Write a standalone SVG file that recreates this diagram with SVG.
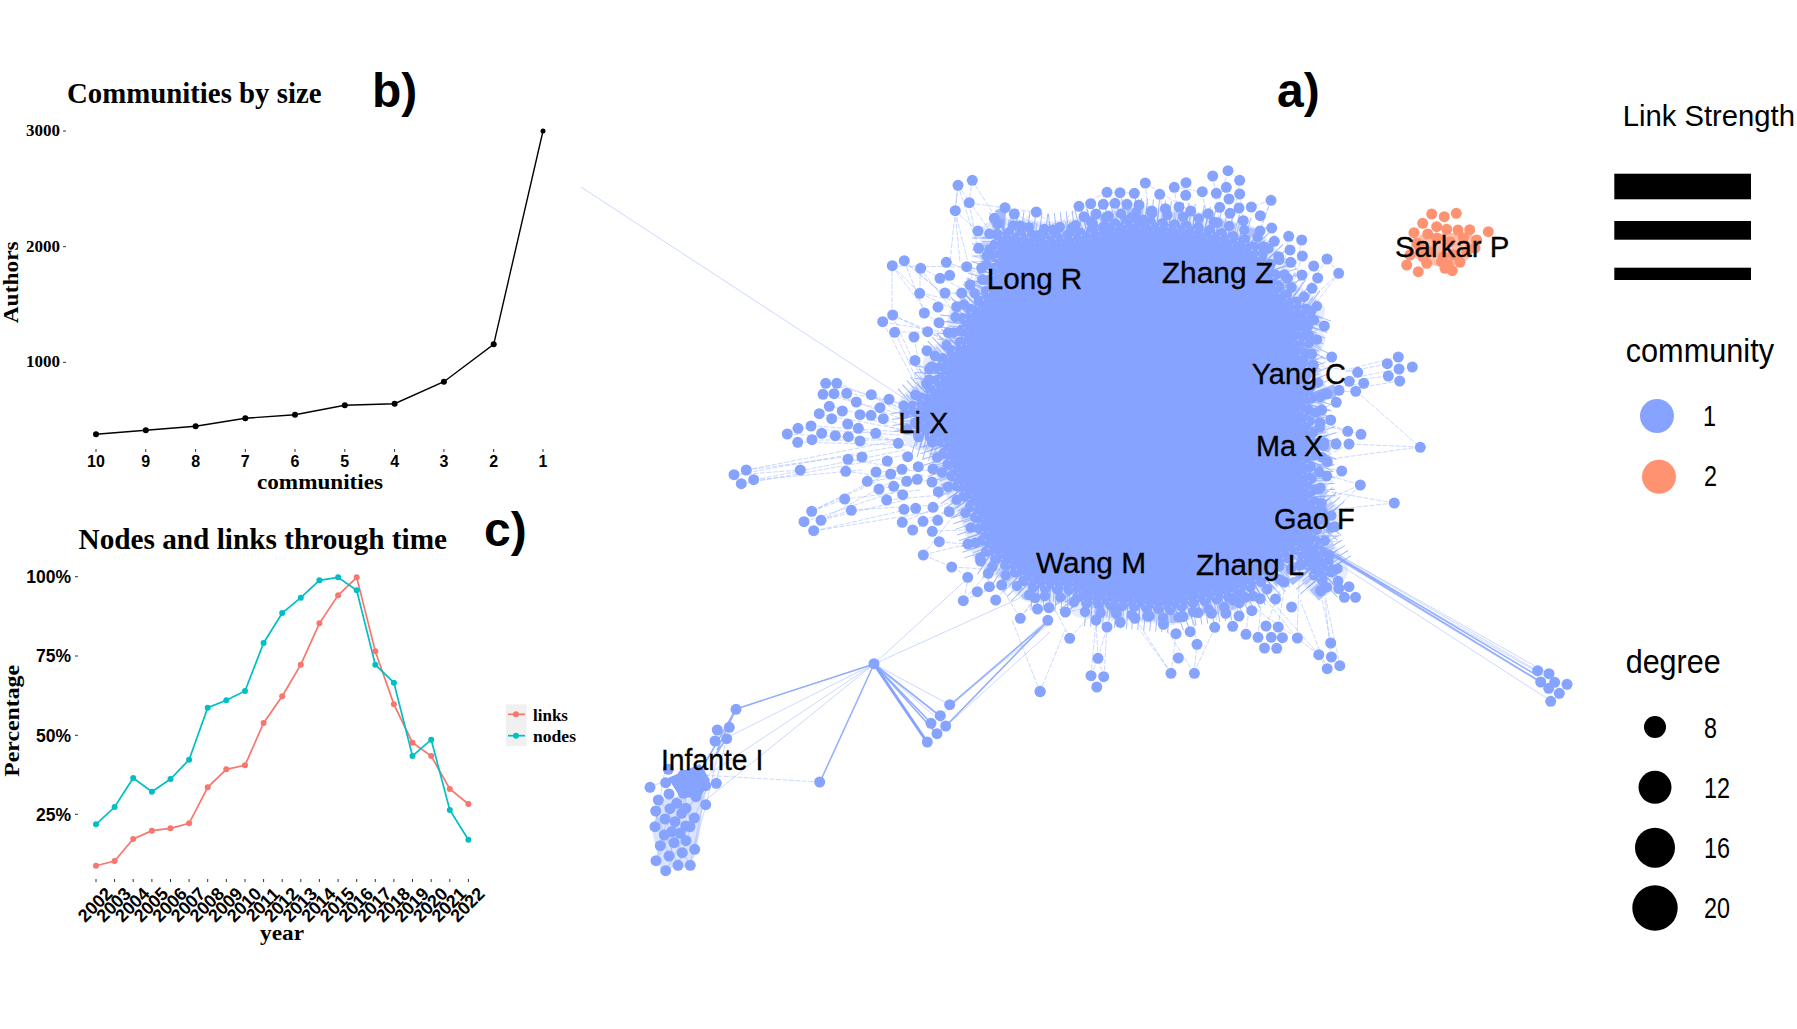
<svg xmlns="http://www.w3.org/2000/svg" width="1797" height="1029" viewBox="0 0 1797 1029">
<style>
text{font-family:"Liberation Sans",Arial,sans-serif;fill:#000}
.s{font-family:"Liberation Serif","Times New Roman",serif;font-weight:700}
.t{font-size:29px}.a{font-size:16px}.ax{font-size:22px}
.p{font-weight:700;font-size:48px}
.lab{font-size:29.5px}.lg{font-size:29px}.lt{font-size:34px}
.lab text{stroke:#000;stroke-width:.3px}
.n circle{r:5.5px;fill:#85a3ff}
.o circle{r:5.5px;fill:#ff9270}
.e{fill:none;stroke:#85a3ff;stroke-opacity:.42;stroke-width:1}
.e2{fill:none;stroke:#85a3ff;stroke-width:1.6;stroke-opacity:.85}
.ds{stroke-dasharray:5 1.5}
.tick{stroke:#333;stroke-width:1;fill:none}
.c1{fill:none;stroke:#f8766d;stroke-width:1.7}
.c2{fill:none;stroke:#00bfc4;stroke-width:1.7}
.d1 circle{r:3px;fill:#f8766d}
.d2 circle{r:3px;fill:#00bfc4}
.ring{fill:none;stroke:#85a3ff;stroke-linecap:round}
</style>
<defs>
<path id="bp" d="M913,406L923,397 937,383 938,363 960,343 963,317 980,300 987,290 995,262 995,235 1003,232 1047,237 1080,233 1130,220 1197,227 1247,240 1273,267 1280,290 1310,312 1300,340 1310,340 1300,360 1313,393 1307,413 1317,447 1310,463 1313,500 1327,517 1316,530 1316,542 1333,570 1320,582 1310,570 1300,547 1264,580 1230,597 1191,603 1172,610 1130,606 1083,603 1073,590 1030,587 1013,570 987,553 973,510 953,480 940,440 917,433Z"/>
</defs>

<g id="panel-b">
<text class="s t" x="67" y="102.7" textLength="254.500" lengthAdjust="spacingAndGlyphs">Communities by size</text>
<text class="p" x="372" y="107">b)</text>
<text class="s a" x="26" y="136" textLength="34" lengthAdjust="spacingAndGlyphs">3000</text>
<text class="s a" x="26" y="251.700" textLength="34" lengthAdjust="spacingAndGlyphs">2000</text>
<text class="s a" x="26" y="367" textLength="34" lengthAdjust="spacingAndGlyphs">1000</text>
<path class="tick" d="M63,131h3M63,246.700h3M63,362.300h3M96,449v3M145.800,449v3M195.600,449v3M245.300,449v3M295,449v3M344.800,449v3M394.600,449v3M443.900,449v3M493.700,449v3M543,449v3"/>
<g class="s a" text-anchor="middle">
<text x="96" y="467">10</text><text x="145.800" y="467">9</text><text x="195.600" y="467">8</text><text x="245.300" y="467">7</text><text x="295" y="467">6</text><text x="344.800" y="467">5</text><text x="394.600" y="467">4</text><text x="443.900" y="467">3</text><text x="493.700" y="467">2</text><text x="543" y="467">1</text>
</g>
<text class="s ax" x="257" y="489.300" textLength="126" lengthAdjust="spacingAndGlyphs">communities</text>
<text class="s ax" transform="translate(17.500 323.300) rotate(-90)" textLength="82" lengthAdjust="spacingAndGlyphs">Authors</text>
<polyline fill="none" stroke="#000" stroke-width="1.400" points="96,434.300 145.800,430.300 195.600,426.300 245.300,418.300 295,414.700 344.800,405.300 394.600,403.700 443.900,381.700 493.700,344.300 543,131"/>
<g fill="#000"><circle cx="96" cy="434.300" r="3"/><circle cx="145.800" cy="430.300" r="3"/><circle cx="195.600" cy="426.300" r="3"/><circle cx="245.300" cy="418.300" r="3"/><circle cx="295" cy="414.700" r="3"/><circle cx="344.800" cy="405.300" r="3"/><circle cx="394.600" cy="403.700" r="3"/><circle cx="443.900" cy="381.700" r="3"/><circle cx="493.700" cy="344.300" r="3"/><circle cx="543" cy="131" r="2.500"/></g>
</g>

<g id="panel-c">
<text class="s t" x="78.500" y="549.300" textLength="368.500" lengthAdjust="spacingAndGlyphs">Nodes and links through time</text>
<text class="p" x="484" y="546">c)</text>
<g class="s" text-anchor="end" style="font-size:17.500px">
<text x="71" y="583.300">100%</text><text x="71" y="662.300">75%</text><text x="71" y="741.700">50%</text><text x="71" y="820.700">25%</text>
</g>
<path class="tick" d="M75,576.700h3M75,656h3M75,735.300h3M75,814.300h3M96,879v3M114.600,879v3M133.200,879v3M151.900,879v3M170.500,879v3M189.100,879v3M207.700,879v3M226.300,879v3M245,879v3M263.600,879v3M282.200,879v3M300.800,879v3M319.400,879v3M338.100,879v3M356.700,879v3M375.300,879v3M393.900,879v3M412.500,879v3M431.200,879v3M449.800,879v3M468.400,879v3"/>
<g class="s" text-anchor="middle" style="font-size:18px">
<text x="99.400" y="909" transform="rotate(-45 99.400 909)">2002</text>
<text x="118" y="909" transform="rotate(-45 118 909)">2003</text>
<text x="136.600" y="909" transform="rotate(-45 136.600 909)">2004</text>
<text x="155.300" y="909" transform="rotate(-45 155.300 909)">2005</text>
<text x="173.900" y="909" transform="rotate(-45 173.900 909)">2006</text>
<text x="192.500" y="909" transform="rotate(-45 192.500 909)">2007</text>
<text x="211.100" y="909" transform="rotate(-45 211.100 909)">2008</text>
<text x="229.700" y="909" transform="rotate(-45 229.700 909)">2009</text>
<text x="248.400" y="909" transform="rotate(-45 248.400 909)">2010</text>
<text x="267" y="909" transform="rotate(-45 267 909)">2011</text>
<text x="285.600" y="909" transform="rotate(-45 285.600 909)">2012</text>
<text x="304.200" y="909" transform="rotate(-45 304.200 909)">2013</text>
<text x="322.800" y="909" transform="rotate(-45 322.800 909)">2014</text>
<text x="341.500" y="909" transform="rotate(-45 341.500 909)">2015</text>
<text x="360.100" y="909" transform="rotate(-45 360.100 909)">2016</text>
<text x="378.700" y="909" transform="rotate(-45 378.700 909)">2017</text>
<text x="397.300" y="909" transform="rotate(-45 397.300 909)">2018</text>
<text x="415.900" y="909" transform="rotate(-45 415.900 909)">2019</text>
<text x="434.600" y="909" transform="rotate(-45 434.600 909)">2020</text>
<text x="453.200" y="909" transform="rotate(-45 453.200 909)">2021</text>
<text x="471.800" y="909" transform="rotate(-45 471.800 909)">2022</text>
</g>
<text class="s ax" x="260" y="940" textLength="44" lengthAdjust="spacingAndGlyphs">year</text>
<text class="s ax" transform="translate(19 776.700) rotate(-90)" textLength="111.700" lengthAdjust="spacingAndGlyphs">Percentage</text>
<polyline class="c1" points="96,865.700 114.600,861 133.200,839 151.900,830.700 170.500,828.300 189.100,823.300 207.700,787.300 226.300,769.300 245,765.300 263.600,723 282.200,696.300 300.800,664.700 319.400,623.300 338.100,595.300 356.700,577.300 375.300,651.300 393.900,704.300 412.500,742.700 431.200,756 449.800,789 468.400,804"/>
<polyline class="c2" points="96,824.300 114.600,807 133.200,778 151.900,791.700 170.500,779 189.100,759.700 207.700,707.700 226.300,700.300 245,691 263.600,643 282.200,613 300.800,597.700 319.400,580.300 338.100,577.300 356.700,590.300 375.300,664.700 393.900,682.700 412.500,756 431.200,739.700 449.800,810 468.400,839.700"/>
<g class="d1"><circle cx="96" cy="865.700"/><circle cx="114.600" cy="861"/><circle cx="133.200" cy="839"/><circle cx="151.900" cy="830.700"/><circle cx="170.500" cy="828.300"/><circle cx="189.100" cy="823.300"/><circle cx="207.700" cy="787.300"/><circle cx="226.300" cy="769.300"/><circle cx="245" cy="765.300"/><circle cx="263.600" cy="723"/><circle cx="282.200" cy="696.300"/><circle cx="300.800" cy="664.700"/><circle cx="319.400" cy="623.300"/><circle cx="338.100" cy="595.300"/><circle cx="356.700" cy="577.300"/><circle cx="375.300" cy="651.300"/><circle cx="393.900" cy="704.300"/><circle cx="412.500" cy="742.700"/><circle cx="431.200" cy="756"/><circle cx="449.800" cy="789"/><circle cx="468.400" cy="804"/></g>
<g class="d2"><circle cx="96" cy="824.300"/><circle cx="114.600" cy="807"/><circle cx="133.200" cy="778"/><circle cx="151.900" cy="791.700"/><circle cx="170.500" cy="779"/><circle cx="189.100" cy="759.700"/><circle cx="207.700" cy="707.700"/><circle cx="226.300" cy="700.300"/><circle cx="245" cy="691"/><circle cx="263.600" cy="643"/><circle cx="282.200" cy="613"/><circle cx="300.800" cy="597.700"/><circle cx="319.400" cy="580.300"/><circle cx="338.100" cy="577.300"/><circle cx="356.700" cy="590.300"/><circle cx="375.300" cy="664.700"/><circle cx="393.900" cy="682.700"/><circle cx="412.500" cy="756"/><circle cx="431.200" cy="739.700"/><circle cx="449.800" cy="810"/><circle cx="468.400" cy="839.700"/></g>
<rect x="506" y="704.300" width="20.600" height="41.700" fill="#f0f0f0"/>
<path class="c1" d="M508,714.300h17"/><path class="c2" d="M508,735.700h17"/>
<circle cx="516" cy="714.300" r="3" fill="#f8766d"/><circle cx="516" cy="735.700" r="3" fill="#00bfc4"/>
<text class="s" x="533" y="720.700" style="font-size:17px" textLength="35" lengthAdjust="spacingAndGlyphs">links</text>
<text class="s" x="533" y="741.700" style="font-size:17px" textLength="43" lengthAdjust="spacingAndGlyphs">nodes</text>
</g>

<g id="connectors">
<path class="e" d="M581,187L913,404"/>
<use href="#bp" fill="none" stroke="#85a3ff" stroke-opacity=".2" stroke-width="30" stroke-linejoin="round"/>
<use href="#bp" fill="none" stroke="#85a3ff" stroke-opacity=".75" stroke-width="46" stroke-dasharray="1 5"/>
<use href="#bp" fill="none" stroke="#85a3ff" stroke-opacity=".6" stroke-width="26" stroke-dasharray="1.500 2.500" stroke-dashoffset="2"/>
<path class="e ds" d="M826,383L905,405M837,383L905,410M823,394L905,415M834,394L905,420M847,393L913,405M829,406L905,425M819,414L905,430M811,426L905,432M798,428L900,435M787,434L900,440M798,442L900,445M812,440L900,440M746,470L900,440M734,475L905,445M754,480L905,450M741,484L905,455M746,470L860,455M754,480L862,470M734,475L800,470M812,511L895,470M821,520L895,480M804,522L900,490M814,531L905,510M821,520L905,500M812,511L880,480M844,499L920,490M851,510L935,505M821,520L851,510M814,531L930,512M812,511L845,499M902,522L955,500M923,521L960,505M913,530L950,510M932,531L965,530M939,542L968,544M923,555L968,544M923,555L952,567M952,567L968,577M952,567L1000,570M923,555L950,520M860,415L925,440M870,395L915,420M889,400L918,425M848,425L920,450M876,472L925,470M867,481L925,475M879,489L930,480M887,500L940,495M845,471L905,480M848,459L910,470"/>
<path class="e ds" d="M958,185L1003,250M958,185L985,270M972,180L1010,240M972,180L969,203M955,211L960,262M955,211L975,290M969,203L1036,212M1005,208L1040,240M1014,214L1060,235M1036,212L1065,235M1036,212L995,240M955,211L958,185M958,185L950,262M892,266L925,310M904,261L945,295M892,315L892,266M892,315L940,335M924,313L950,330M920,293L955,310M921,268L975,295M946,262L985,275M966,267L990,290M892,266L966,267M892,315L945,340M904,261L950,300M920,268L960,320M883,322L923,398M892,315L929,395M895,332L925,398M914,337L925,396M883,322L948,333M895,332L927,332M892,266L920,293M904,261L925,313M920,268L920,293M927,351L938,370M915,360L935,380M927,332L960,345M939,323L975,315M920,293L975,305M945,294L985,290M969,203L978,248M955,211L978,231M978,231L1000,240M994,218L1030,235"/>
<path class="e ds" d="M1079,206L1050,235M1091,204L1075,232M1107,192L1100,230M1120,193L1125,225M1134,193L1140,225M1145,183L1150,225M1160,194L1165,228M1174,187L1180,225M1186,183L1190,225M1202,192L1210,230M1213,176L1220,230M1228,171L1210,230M1240,180L1230,235M1228,171L1240,180M1240,194L1245,240M1271,200L1255,245M1271,200L1251,207M1271,200L1260,230M1289,236L1280,290M1302,240L1290,290M1327,259L1300,300M1339,273L1310,311M1339,273L1310,300M1314,266L1290,300M1302,256L1285,310M1339,273L1327,259M1079,206L1107,192M1107,192L1134,193M1174,187L1202,192M1079,206L1120,230M1145,183L1190,211"/>
<path class="e ds" d="M1324,326L1300,340M1332,357L1303,362M1387,364L1346,372M1398,357L1345,370M1412,367L1399,369M1399,369L1352,378M1388,376L1350,381M1400,381L1356,388M1358,372L1312,365M1364,383L1320,390M1356,391L1313,393M1356,391L1420,447M1339,390L1310,400M1336,402L1310,415M1331,420L1310,410M1348,431L1315,420M1361,434L1320,425M1336,444L1318,450M1349,444L1320,460M1420,447L1349,444M1420,447L1323,460M1342,471L1310,465M1360,485L1312,470M1360,485L1315,505M1394,503L1320,490M1394,503L1330,510M1360,485L1330,515M1342,471L1313,500"/>
<path class="e ds" d="M1021,618L1040,592M1037,609L1050,590M1049,608L1065,598M1065,612L1096,607M1070,638L1050,600M1070,638L1095,610M1040,692L1012,620M1040,692L1065,630M1096,620L1110,610M1107,627L1120,610M1098,658L1096,620M1098,658L1107,627M1091,676L1096,620M1104,677L1107,627M1097,687L1091,676M1097,687L1104,677M1091,676L1098,658M1104,677L1098,658M1171,673L1135,618M1171,673L1176,634M1194,673L1163,624M1194,673L1197,644M1171,673L1140,630M1194,673L1215,627M1197,644L1190,610M1215,627L1220,600M1233,626L1240,600M1246,634L1250,600M1258,637L1262,595M1266,626L1280,590M1278,627L1285,585M1297,638L1262,595M1297,638L1250,605M1297,638L1300,555M1331,643L1320,590M1331,657L1325,600M1319,655L1262,590M1319,655L1297,638M1340,666L1331,657M1327,669L1319,655M1340,666L1325,595M1327,669L1300,600M964,600L990,570M964,600L1000,585M978,592L1002,585M996,600L1015,575M1020,618L1035,598M1020,618L1000,585M964,600L968,578"/>
<path class="e" d="M1316,542L1538,671M1316,542L1549,674M1316,544L1541,682M1316,546L1555,682M1316,546L1549,688M1314,548L1551,701"/>
<path class="e2" d="M1320,546L1538,676M1318,546L1541,682"/>
<path class="e" d="M874,664L968,578M874,664L1020,598M874,664L718,742M874,664L706,800M874,664L700,780M736,709L874,664M950,705L874,664M940,716L874,664M931,723L874,664M946,726L874,664M937,734L874,664M950,705L1050,623M946,726L1050,632M940,716L1047,620M937,734L1040,630"/>
<path class="e ds" d="M820,782L700,775"/>
<path class="e2" d="M736,709L874,664M820,782L874,664M950,705L1047,622M946,726L1049,620"/>
<path fill="none" stroke="#85a3ff" stroke-width="3" d="M874,664L927,742"/>
<path class="e2" d="M874,664L931,723M874,664L937,734M874,664L940,716M736,709L717,750M726,739L712,760M736,709L700,772"/>
<path class="e" d="M666,783L700,770M650,787L680,775M706,805L720,745M716,783L725,745M694,849L706,805M694,818L706,790M655,827L665,770M670,856L686,780M690,865L706,790M666,871L694,818M656,861L670,809M678,865L655,811M686,840L660,800M675,822L696,797M691,827L684,793M665,835L695,800M660,846L690,790M690,865L665,820M678,865L694,818M656,861L686,808M669,856L655,811"/>
</g>

<g id="network" class="n">
<use id="blob" href="#bp" fill="#85a3ff"/>
<use class="ring" href="#bp" stroke-width="11" stroke-dasharray="0 12"/>
<use class="ring" href="#bp" stroke-width="10" stroke-dasharray="0 15" transform="translate(1120 415) scale(1.045) translate(-1120 -415)"/>
<use href="#bp" fill="none" stroke="#fff" stroke-opacity=".55" stroke-width="1.300" stroke-dasharray="1 8" transform="translate(1120 415) scale(.985) translate(-1120 -415)"/>
<use href="#bp" fill="none" stroke="#fff" stroke-opacity=".35" stroke-width="1" stroke-dasharray="1 13" transform="translate(1120 415) scale(.96) translate(-1120 -415)"/>
<g id="cluster-topleft">
<circle cx="958" cy="185.300"/><circle cx="972.300" cy="180.300"/><circle cx="969.300" cy="202.700"/><circle cx="955.300" cy="210.700"/><circle cx="1005" cy="207.700"/><circle cx="1014.300" cy="214"/><circle cx="1036.300" cy="212"/><circle cx="994.300" cy="218.300"/><circle cx="1020.300" cy="226"/><circle cx="978" cy="231"/><circle cx="978.700" cy="248.300"/><circle cx="987" cy="256"/><circle cx="892.300" cy="265.700"/><circle cx="904.300" cy="260.700"/><circle cx="920.700" cy="268.300"/><circle cx="946.300" cy="262.300"/><circle cx="966.700" cy="266.700"/><circle cx="940" cy="278.300"/><circle cx="949.700" cy="275.300"/><circle cx="919.700" cy="293.300"/><circle cx="945" cy="293"/><circle cx="938" cy="307"/><circle cx="924.300" cy="313"/><circle cx="892.700" cy="315"/><circle cx="981.700" cy="268"/><circle cx="970" cy="285"/><circle cx="961.700" cy="293"/><circle cx="956.700" cy="306.700"/><circle cx="915" cy="360.500"/><circle cx="882.700" cy="321.700"/><circle cx="894.700" cy="332.300"/><circle cx="914" cy="337"/><circle cx="927.700" cy="331.700"/><circle cx="939" cy="322.700"/><circle cx="948.300" cy="332.700"/><circle cx="927" cy="350.700"/><circle cx="931.700" cy="366.700"/><circle cx="929.300" cy="380"/>
</g>
<g id="cluster-top">
<circle cx="1079" cy="206.300"/><circle cx="1090.700" cy="203.700"/><circle cx="1107" cy="192.300"/><circle cx="1120" cy="192.700"/><circle cx="1134.300" cy="193.300"/><circle cx="1145.300" cy="183"/><circle cx="1159.700" cy="194.300"/><circle cx="1174.300" cy="187.300"/><circle cx="1186" cy="182.700"/><circle cx="1185.700" cy="195.300"/><circle cx="1202.300" cy="191.700"/><circle cx="1212.700" cy="176"/><circle cx="1228" cy="170.700"/><circle cx="1239.700" cy="180.300"/><circle cx="1226.300" cy="187.300"/><circle cx="1216.300" cy="193.300"/><circle cx="1239.700" cy="194"/><circle cx="1229" cy="199"/><circle cx="1271" cy="200.300"/><circle cx="1251.300" cy="207"/><circle cx="1239" cy="208"/><circle cx="1219.700" cy="207.300"/><circle cx="1208.300" cy="213.700"/><circle cx="1190.700" cy="211"/><circle cx="1179" cy="207"/><circle cx="1165.300" cy="208.700"/><circle cx="1151.700" cy="211"/><circle cx="1139" cy="205"/><circle cx="1127" cy="204.300"/><circle cx="1115" cy="203.300"/><circle cx="1103.300" cy="204.300"/><circle cx="1096" cy="214"/><circle cx="1108.300" cy="216.300"/><circle cx="1084" cy="216.700"/><circle cx="1131.700" cy="217.700"/><circle cx="1143.300" cy="220"/><circle cx="1260.300" cy="215.700"/><circle cx="1243.300" cy="220.700"/><circle cx="1230" cy="213.300"/><circle cx="1271.700" cy="228"/><circle cx="1260" cy="231"/><circle cx="1288.700" cy="236.300"/><circle cx="1301.700" cy="240"/><circle cx="1274.300" cy="241.300"/><circle cx="1290" cy="250"/><circle cx="1302.300" cy="256"/><circle cx="1278.700" cy="256.700"/><circle cx="1327" cy="259"/><circle cx="1338.700" cy="273.300"/><circle cx="1313.700" cy="266"/><circle cx="1290.700" cy="262.300"/><circle cx="1302" cy="275"/><circle cx="1317.700" cy="278"/><circle cx="1312" cy="288.300"/><circle cx="1287.300" cy="278.300"/><circle cx="1311" cy="311"/><circle cx="1263.300" cy="246.700"/><circle cx="1217.300" cy="222.700"/><circle cx="1072" cy="228.300"/><circle cx="1092.700" cy="225"/><circle cx="1106.700" cy="227.700"/><circle cx="1053.300" cy="230"/><circle cx="1040" cy="235"/>
</g>
<g id="cluster-right">
<circle cx="1324.300" cy="326"/><circle cx="1308" cy="325.700"/><circle cx="1311.700" cy="354"/><circle cx="1331.700" cy="357"/><circle cx="1387.300" cy="363.700"/><circle cx="1398.300" cy="357"/><circle cx="1412.300" cy="367"/><circle cx="1399" cy="369"/><circle cx="1388.300" cy="376"/><circle cx="1399.700" cy="381"/><circle cx="1357.700" cy="372.300"/><circle cx="1363.700" cy="383.300"/><circle cx="1355.700" cy="391.300"/><circle cx="1339" cy="390.300"/><circle cx="1349.300" cy="381.300"/><circle cx="1326.700" cy="394"/><circle cx="1336.300" cy="402.300"/><circle cx="1321.700" cy="410"/><circle cx="1330.700" cy="420"/><circle cx="1320" cy="422.700"/><circle cx="1347.700" cy="431.300"/><circle cx="1361" cy="434.300"/><circle cx="1336" cy="444"/><circle cx="1349" cy="444"/><circle cx="1323.300" cy="445.700"/><circle cx="1420.300" cy="447.300"/><circle cx="1327.300" cy="461.700"/><circle cx="1341.700" cy="471"/><circle cx="1326.700" cy="476"/><circle cx="1360.300" cy="485"/><circle cx="1318.300" cy="489"/><circle cx="1394.300" cy="503"/><circle cx="1313.300" cy="365"/><circle cx="1303" cy="361.700"/><circle cx="1334.900" cy="526.700"/>
</g>
<g id="cluster-left">
<circle cx="825.700" cy="383.300"/><circle cx="836.700" cy="383.300"/><circle cx="823" cy="394.300"/><circle cx="834" cy="393.700"/><circle cx="846.700" cy="393.300"/><circle cx="856.300" cy="402"/><circle cx="871.300" cy="394.700"/><circle cx="889" cy="399.300"/><circle cx="880" cy="407.700"/><circle cx="829.300" cy="406.300"/><circle cx="819.300" cy="413.700"/><circle cx="842.300" cy="411"/><circle cx="831.700" cy="418.700"/><circle cx="860" cy="414.700"/><circle cx="871" cy="415.300"/><circle cx="883.300" cy="418.700"/><circle cx="847.700" cy="424"/><circle cx="811" cy="426"/><circle cx="798" cy="428.300"/><circle cx="787.300" cy="434"/><circle cx="821.700" cy="433.300"/><circle cx="835.300" cy="435.700"/><circle cx="848.300" cy="436.700"/><circle cx="858.300" cy="428.300"/><circle cx="875.700" cy="433.300"/><circle cx="812" cy="439.700"/><circle cx="797.700" cy="442.300"/><circle cx="860" cy="441"/><circle cx="898.300" cy="443.300"/><circle cx="746.300" cy="470"/><circle cx="734" cy="474.700"/><circle cx="753.700" cy="479.700"/><circle cx="741.300" cy="483.700"/><circle cx="800.300" cy="470"/><circle cx="845.700" cy="471.300"/><circle cx="848" cy="459.300"/><circle cx="862" cy="457"/><circle cx="887.300" cy="461"/><circle cx="907.700" cy="456.700"/><circle cx="918.300" cy="466.700"/><circle cx="876" cy="472"/><circle cx="890.700" cy="474"/><circle cx="902" cy="469.300"/><circle cx="867.300" cy="481.300"/><circle cx="879" cy="489"/><circle cx="893.700" cy="486.300"/><circle cx="906.700" cy="481.300"/><circle cx="917.300" cy="479.300"/><circle cx="932" cy="482"/><circle cx="902.700" cy="494.700"/><circle cx="886.700" cy="500"/><circle cx="844.700" cy="499"/><circle cx="851.300" cy="510.300"/><circle cx="811.700" cy="511.300"/><circle cx="821" cy="520.300"/><circle cx="804" cy="521.700"/><circle cx="813.700" cy="530.700"/><circle cx="904" cy="509.300"/><circle cx="915.700" cy="508.300"/><circle cx="933" cy="507.300"/><circle cx="949.300" cy="511.700"/><circle cx="902.300" cy="522.300"/><circle cx="923" cy="521.300"/><circle cx="937.700" cy="520.300"/><circle cx="912.700" cy="530"/><circle cx="932.300" cy="531.300"/><circle cx="939.300" cy="541.700"/><circle cx="968" cy="544"/><circle cx="923.300" cy="555"/><circle cx="951.700" cy="567"/><circle cx="967.700" cy="577.300"/><circle cx="938.300" cy="491.700"/><circle cx="933" cy="469"/>
</g>
<g id="cluster-bottom">
<circle cx="977.300" cy="591.700"/><circle cx="989.300" cy="586.700"/><circle cx="1001.700" cy="585"/><circle cx="963.300" cy="600.700"/><circle cx="995.700" cy="600"/><circle cx="1035" cy="597.700"/><circle cx="980.700" cy="561"/><circle cx="988.300" cy="573.300"/>
<circle cx="1020.300" cy="618.300"/><circle cx="1037.500" cy="609"/><circle cx="1049" cy="607.700"/><circle cx="1047.800" cy="620.300"/><circle cx="1065.400" cy="612"/><circle cx="1069.700" cy="638.300"/><circle cx="1040.200" cy="691.700"/><circle cx="1096" cy="620"/><circle cx="1107" cy="627"/><circle cx="1120.200" cy="622.300"/><circle cx="1135" cy="618.300"/><circle cx="1149.300" cy="616"/><circle cx="1098" cy="658.300"/><circle cx="1091" cy="675.700"/><circle cx="1103.700" cy="676.700"/><circle cx="1096.800" cy="687"/><circle cx="1115.600" cy="610.700"/><circle cx="1163.400" cy="624.300"/><circle cx="1176" cy="633.700"/><circle cx="1190.200" cy="631.700"/><circle cx="1197" cy="644.300"/><circle cx="1178.300" cy="658"/><circle cx="1171" cy="673.300"/><circle cx="1194.400" cy="673.300"/><circle cx="1183" cy="616.700"/><circle cx="1198" cy="612.700"/><circle cx="1211.600" cy="613.300"/><circle cx="1214.700" cy="627.300"/><circle cx="1225.800" cy="613.300"/><circle cx="1232.700" cy="626.300"/><circle cx="1239" cy="616"/><circle cx="1246" cy="634.300"/><circle cx="1251.800" cy="610.700"/><circle cx="1258" cy="637.300"/><circle cx="1266" cy="626"/><circle cx="1278.200" cy="627"/><circle cx="1271.300" cy="637.300"/><circle cx="1282.400" cy="637.700"/><circle cx="1264.500" cy="648"/><circle cx="1276.700" cy="648.300"/><circle cx="1260.200" cy="598.700"/><circle cx="1245" cy="597.300"/><circle cx="1233.400" cy="600"/><circle cx="1275.500" cy="599"/><circle cx="1291.600" cy="607"/><circle cx="1284.300" cy="582"/><circle cx="1297.400" cy="638"/><circle cx="1320.700" cy="590.700"/><circle cx="1338.700" cy="588.700"/><circle cx="1349" cy="586.700"/><circle cx="1344.400" cy="597.300"/><circle cx="1355.500" cy="597.300"/><circle cx="1334" cy="570"/><circle cx="1330.700" cy="643"/><circle cx="1331.400" cy="657"/><circle cx="1318.800" cy="654.700"/><circle cx="1339.800" cy="665.700"/><circle cx="1327.200" cy="668.700"/><circle cx="1300.400" cy="565"/>
</g>
<g id="cluster-far-right">
<circle cx="1537.700" cy="670.700"/><circle cx="1549" cy="673.700"/><circle cx="1540.700" cy="682"/><circle cx="1554.700" cy="682.300"/><circle cx="1567" cy="684.300"/><circle cx="1548.700" cy="688.300"/><circle cx="1559.300" cy="693.300"/><circle cx="1550.700" cy="701.300"/>
</g>
<g id="cluster-bridge">
<circle cx="874" cy="663.700"/><circle cx="736" cy="709.300"/><circle cx="717.300" cy="730"/><circle cx="729.300" cy="727.300"/><circle cx="715" cy="741"/><circle cx="726.700" cy="738.700"/><circle cx="819.700" cy="782"/><circle cx="949.700" cy="704.700"/><circle cx="940.300" cy="715.700"/><circle cx="931" cy="723.300"/><circle cx="945.700" cy="726"/><circle cx="937" cy="733.700"/><circle cx="927.300" cy="742"/><circle cx="1040" cy="691.300"/>
</g>
<g id="cluster-infante">
<path d="M668,778L700,764 710,780 700,798 680,797Z" fill="#85a3ff"/>
<path d="M660,800L705,790 697,850 690,868 660,868 652,830Z" fill="#85a3ff" fill-opacity=".3"/>
<circle cx="650" cy="787.300"/><circle cx="665.700" cy="782.700"/><circle cx="669" cy="794"/><circle cx="658.300" cy="800"/><circle cx="655.700" cy="811"/><circle cx="670" cy="808.700"/><circle cx="686" cy="808.300"/><circle cx="655" cy="826.700"/><circle cx="665" cy="819"/><circle cx="675" cy="821.700"/><circle cx="685.700" cy="826"/><circle cx="694.300" cy="818"/><circle cx="664.300" cy="835"/><circle cx="674" cy="842.700"/><circle cx="660.300" cy="845.700"/><circle cx="686" cy="840.700"/><circle cx="694.700" cy="849.300"/><circle cx="669" cy="856"/><circle cx="682.300" cy="852.700"/><circle cx="656" cy="860.700"/><circle cx="678" cy="865.300"/><circle cx="690.300" cy="865.300"/><circle cx="665.700" cy="870.700"/><circle cx="705.700" cy="785.700"/><circle cx="716.300" cy="783.300"/><circle cx="705.700" cy="804.700"/><circle cx="696" cy="796.700"/><circle cx="683.300" cy="793.300"/><circle cx="678.300" cy="783.300"/><circle cx="686.700" cy="781.700"/><circle cx="695" cy="776.700"/><circle cx="683.300" cy="775"/><circle cx="668.300" cy="769.300"/><circle cx="671.700" cy="831.700"/><circle cx="680" cy="833.300"/><circle cx="696.700" cy="786.700"/><circle cx="676.700" cy="803.300"/><circle cx="681.700" cy="813.300"/><circle cx="690" cy="826.700"/><circle cx="700" cy="773.300"/>
</g>
</g>

<g id="cluster-sarkar" class="o">
<path d="M1420,235L1470,232 1480,245 1465,262 1445,268 1420,262 1408,250Z" fill="#ff9270" fill-opacity=".6"/>
<circle cx="1431.700" cy="214"/><circle cx="1444.300" cy="216.700"/><circle cx="1456.300" cy="213.300"/><circle cx="1422.700" cy="223.300"/><circle cx="1436.700" cy="226.700"/><circle cx="1446.700" cy="229.300"/><circle cx="1458" cy="230"/><circle cx="1469.700" cy="229.700"/><circle cx="1488.300" cy="231.700"/><circle cx="1414" cy="232.700"/><circle cx="1427.700" cy="234"/><circle cx="1476.700" cy="240"/><circle cx="1436.700" cy="238"/><circle cx="1450" cy="241.700"/><circle cx="1463.300" cy="238"/><circle cx="1416.700" cy="243"/><circle cx="1406.700" cy="265"/><circle cx="1418.300" cy="271.700"/><circle cx="1426.700" cy="263.300"/><circle cx="1445" cy="268.300"/><circle cx="1452.300" cy="270.700"/><circle cx="1460" cy="262.300"/><circle cx="1410" cy="255"/><circle cx="1430" cy="251.700"/><circle cx="1443.300" cy="256.700"/><circle cx="1453.300" cy="255"/><circle cx="1466.700" cy="251.700"/><circle cx="1441.700" cy="261.700"/><circle cx="1423.300" cy="256.700"/><circle cx="1448.300" cy="265"/><circle cx="1475" cy="248"/><circle cx="1420" cy="248"/>
</g>

<g id="node-labels" class="lab">
<g id="node-long-r"><text x="986.700" y="289.300" textLength="95.600" lengthAdjust="spacingAndGlyphs">Long R</text></g>
<g id="node-zhang-z"><text x="1161.700" y="282.700" textLength="111.600" lengthAdjust="spacingAndGlyphs">Zhang Z</text></g>
<g id="node-sarkar-p"><text x="1395" y="257.300" textLength="114.300" lengthAdjust="spacingAndGlyphs">Sarkar P</text></g>
<g id="node-yang-c"><text x="1251.700" y="384" textLength="94.300" lengthAdjust="spacingAndGlyphs">Yang C</text></g>
<g id="node-ma-x"><text x="1256" y="456" textLength="67.300" lengthAdjust="spacingAndGlyphs">Ma X</text></g>
<g id="node-gao-f"><text x="1274" y="529" textLength="80.600" lengthAdjust="spacingAndGlyphs">Gao F</text></g>
<g id="node-wang-m"><text x="1036" y="572.700" textLength="110" lengthAdjust="spacingAndGlyphs">Wang M</text></g>
<g id="node-zhang-l"><text x="1196" y="575" textLength="108.200" lengthAdjust="spacingAndGlyphs">Zhang L</text></g>
<g id="node-li-x"><text x="898.300" y="433.300" textLength="50" lengthAdjust="spacingAndGlyphs">Li X</text></g>
<g id="node-infante-i"><text x="661" y="770" textLength="102.300" lengthAdjust="spacingAndGlyphs">Infante I</text></g>
</g>
<text class="p" x="1277" y="107">a)</text>

<g id="legend">
<text class="lg" x="1622.700" y="125.700" textLength="172.300" lengthAdjust="spacingAndGlyphs">Link Strength</text>
<rect x="1614.300" y="173.700" width="136.700" height="25.600"/>
<rect x="1614.300" y="221" width="136.700" height="18.700"/>
<rect x="1614.300" y="267.700" width="136.700" height="12.300"/>
<text class="lt" x="1625.700" y="361.700" textLength="148.300" lengthAdjust="spacingAndGlyphs">community</text>
<circle cx="1657" cy="416" r="17" fill="#85a3ff"/>
<circle cx="1659" cy="476.700" r="17" fill="#ff9270"/>
<text class="lg" x="1703" y="425.700" textLength="13" lengthAdjust="spacingAndGlyphs">1</text>
<text class="lg" x="1704" y="486" textLength="13" lengthAdjust="spacingAndGlyphs">2</text>
<text class="lt" x="1625.700" y="673.300" textLength="95" lengthAdjust="spacingAndGlyphs">degree</text>
<circle cx="1655" cy="727" r="11"/>
<circle cx="1655" cy="787.300" r="16.500"/>
<circle cx="1655" cy="847.700" r="20"/>
<circle cx="1655" cy="908" r="22.700"/>
<text class="lg" x="1704" y="737.700" textLength="13" lengthAdjust="spacingAndGlyphs">8</text>
<text class="lg" x="1704" y="798" textLength="26" lengthAdjust="spacingAndGlyphs">12</text>
<text class="lg" x="1704" y="858" textLength="26" lengthAdjust="spacingAndGlyphs">16</text>
<text class="lg" x="1704" y="918" textLength="26" lengthAdjust="spacingAndGlyphs">20</text>
</g>
</svg>
